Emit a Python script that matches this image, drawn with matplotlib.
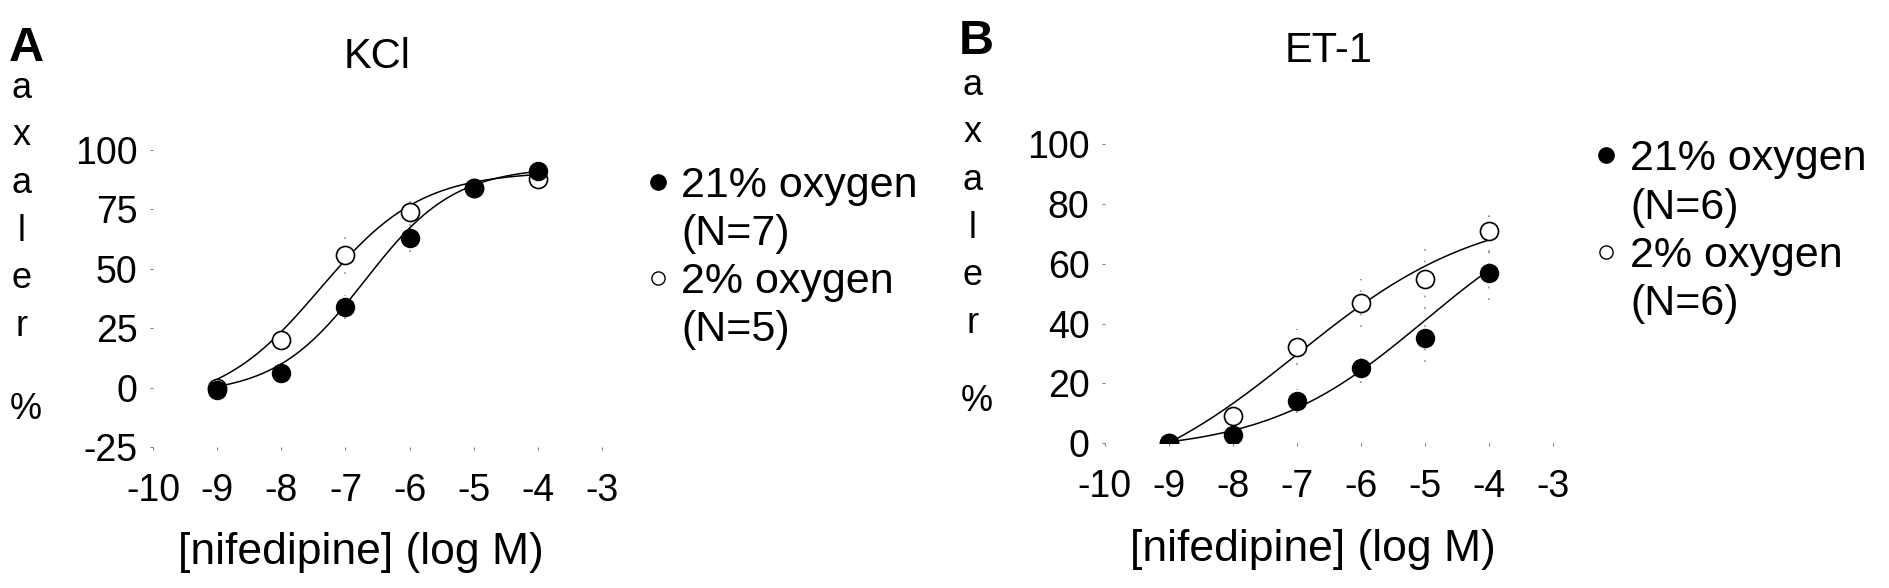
import numpy as np
import matplotlib
matplotlib.use('Agg')
import matplotlib.pyplot as plt
from matplotlib.lines import Line2D

plt.rcParams['font.family'] = ['Liberation Sans', 'DejaVu Sans']
plt.rcParams['axes.unicode_minus'] = False

# data
log_conc = [-9, -8, -7, -6, -5, -4]
kcl_21 = [-1, 6, 34, 63, 84, 91]
kcl_2 = [0, 20, 56, 74, 84, 88]
et1_21 = [0, 2.7, 14, 25, 35, 57]
et1_2 = [0, 9, 32, 47, 55, 71]
# rough SEM (faint dotted bars)
kcl_21_err = [0, 3, 5, 6, 4, 3]
kcl_2_err = [0, 4, 8, 6, 4, 3]
et1_21_err = [0, 2, 4, 5, 8, 9]
et1_2_err = [0, 3, 6, 8, 10, 7]

# fitted curve parameters: bottom, top, logEC50, hill slope
kcl_21_fit = [-3, 93, -6.7, 0.62]
kcl_2_fit = [-8, 91, -7.4, 0.55]
et1_21_fit = [-3, 85, -5.0, 0.35]
et1_2_fit = [-19.8, 79, -7.0, 0.30]

legend_A = ['21% oxygen', '(N=7)', '2% oxygen', '(N=5)']
legend_B = ['21% oxygen', '(N=6)', '2% oxygen', '(N=6)']
xticks = [-10, -9, -8, -7, -6, -5, -4, -3]


def logistic(x, p):
    b, t, ec, h = p
    return b + (t - b) / (1 + 10 ** ((ec - x) * h))


fig = plt.figure(figsize=(18.89, 5.88), dpi=100)
axA = fig.add_axes([0.081, 0.2398, 0.2377, 0.505])
axB = fig.add_axes([0.5848, 0.2466, 0.2372, 0.508])

panels = [
    (axA, kcl_21, kcl_2, kcl_21_err, kcl_2_err, kcl_21_fit, kcl_2_fit,
     (-25, 100), [-25, 0, 25, 50, 75, 100], 'KCl', legend_A, (0.3425, 0.718)),
    (axB, et1_21, et1_2, et1_21_err, et1_2_err, et1_21_fit, et1_2_fit,
     (0, 100), [0, 20, 40, 60, 80, 100], 'ET-1', legend_B, (0.8447, 0.763)),
]

xs = np.linspace(-9, -4, 200)
for ax, y21, y2, e21, e2, f21, f2, ylim, yticks, title, leg, legpos in panels:
    for y, e in [(y2, e2), (y21, e21)]:
        eb = ax.errorbar(log_conc, y, yerr=e, fmt='none', ecolor='0.55',
                         elinewidth=1.2, capsize=0)
        eb[2][0].set_linestyle((0, (1, 6)))
    ax.plot(xs, logistic(xs, f2), color='black', lw=1.1)
    ax.plot(xs, logistic(xs, f21), color='black', lw=1.1)
    ax.plot(log_conc, y2, 'o', ms=13, mfc='white', mec='black', mew=1.2)
    ax.plot(log_conc, y21, 'o', ms=13, mfc='black', mec='black')
    ax.set_xlim(-10, -3)
    ax.set_ylim(*ylim)
    ax.set_xticks(xticks)
    ax.set_yticks(yticks)
    for s in ax.spines.values():
        s.set_visible(False)
    ax.tick_params(length=2, color='0.5', labelsize=27)
    ax.tick_params(axis='x', pad=17)
    ax.tick_params(axis='y', pad=9)
    ax.text(0.5, 1.312, title, transform=ax.transAxes, fontsize=30,
            ha='center', va='center')
    ax.set_xlabel('[nifedipine] (log M)', fontsize=32)
    ax.xaxis.set_label_coords(0.464, -0.355)
    ax.xaxis.label.set_va('center')
    blank = Line2D([], [], linestyle='none', marker='none')
    lf = Line2D([], [], linestyle='none', marker='o', ms=11, mfc='black', mec='black')
    lo = Line2D([], [], linestyle='none', marker='o', ms=9.5, mfc='white', mec='black', mew=1)
    fig.legend([lf, blank, lo, blank], leg, loc='upper left', bbox_to_anchor=legpos,
               frameon=False, fontsize=31, handlelength=0.5, handletextpad=0.3,
               labelspacing=0.19, borderpad=0, borderaxespad=0)

# stacked y-axis letters and panel labels
letters = ['a', 'x', 'a', 'l', 'e', 'r']
for x0, y0, ypct, lab, labpos in [(0.0115, 0.850, 0.303, 'A', (0.014, 0.918)),
                                  (0.515, 0.855, 0.318, 'B', (0.5167, 0.930))]:
    for i, ch in enumerate(letters):
        fig.text(x0, y0 - 0.081 * i, ch, fontsize=26, ha='center', va='center')
    fig.text(x0 + 0.002, ypct, '%', fontsize=26, ha='center', va='center')
    fig.text(labpos[0], labpos[1], lab, fontsize=35, fontweight='bold',
             ha='center', va='center')

fig.savefig('out.png', dpi=100)
